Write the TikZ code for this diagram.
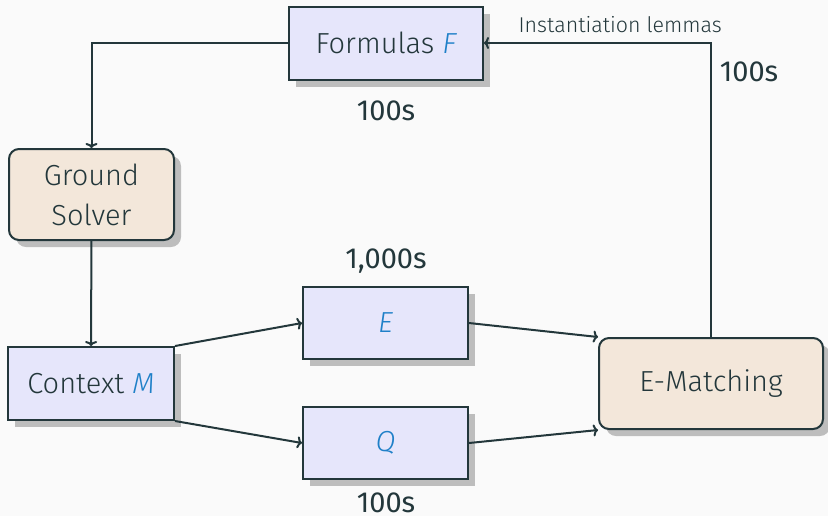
\documentclass[tikz,border=0pt]{standalone}
\usepackage{fontspec}
\setmainfont{Fira Sans Light}[ItalicFont=Fira Sans Light Italic]
\newfontfamily\timefont{Fira Sans}
\usetikzlibrary{shadows, arrows.meta, positioning}

\definecolor{ink}{HTML}{23373B}
\definecolor{paper}{HTML}{FAFAFA}
\definecolor{boxblue}{HTML}{E6E6FB}
\definecolor{boxsand}{HTML}{F3E7DA}
\definecolor{varblue}{HTML}{1F80C8}
\definecolor{shade}{HTML}{BDBDBD}

% variables are set in blue italics
\newcommand{\var}[1]{{\color{varblue}\itshape #1}}

\begin{document}
\begin{tikzpicture}[x=0.5pt, y=-0.5pt,
    box/.style={rectangle, draw=ink, line width=1pt, fill=boxblue, text=ink,
        minimum width=82.5pt, minimum height=36pt, inner sep=0pt,
        font=\fontsize{14.5}{20}\selectfont,
        drop shadow={shadow xshift=3.5pt, shadow yshift=-3.5pt, fill=shade, opacity=1}},
    engine/.style={box, fill=boxsand, rounded corners=5pt, minimum height=45.5pt, align=center},
    time/.style={text=ink, inner sep=0pt, font=\timefont\fontsize{14.5}{17}\selectfont},
    flow/.style={draw=ink, line width=1pt, -{To[length=2.5pt, width=6pt]}}]
    \useasboundingbox[fill=paper] (0,0) rectangle (828,516);

    % boxes
    \node[box, minimum width=97pt, minimum height=36.5pt] (formulas) at (386,43) {Formulas \var{F}};
    \node[engine] (solver) at (91.5,194.5) {Ground\\Solver};
    \node[box, minimum width=83pt, minimum height=36.5pt] (context) at (91,383.5) {Context \var{M}};
    \node[box] (e) at (385.5,323) {\var{E}};
    \node[box] (q) at (385.5,443) {\var{Q}};
    \node[engine, minimum width=112pt] (ematch) at (711,383.5) {E-Matching};

    % timings
    \node[time] (tformulas) at (386,111) {100s};
    \node[time] (te) at (386,261) {1,000s};
    \node[time] (tq) at (386,503) {100s};
    \node[time] (tlemmas) at (749,72) {100s};

    % connectors
    \draw[flow] (formulas.west) -| (solver.north);
    \draw[flow] (solver) -- (context);
    \draw[flow] (context.north east) -- (e.west);
    \draw[flow] (context.south east) -- (q.west);
    \draw[flow] (e.east) -- (ematch.north west);
    \draw[flow] (q.east) -- (ematch.south west);
    \draw[flow] (ematch.north) |- (formulas.east)
        node[pos=0.7, above=4.5pt, text=ink, inner sep=0pt, font=\fontsize{10.7}{13}\selectfont] {Instantiation lemmas};
\end{tikzpicture}
\end{document}
